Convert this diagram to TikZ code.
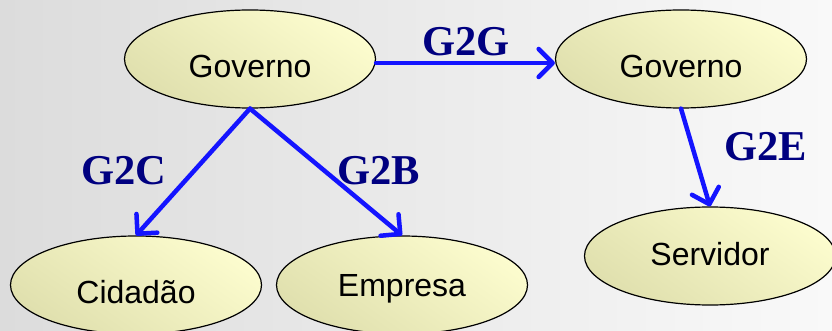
\documentclass[tikz,border=0pt]{standalone}
\usepackage{fontspec}
\setmainfont{Liberation Sans}
\newfontfamily\lblfont{Liberation Serif}
\usetikzlibrary{shapes.geometric,arrows.meta}
\definecolor{bgleft}{HTML}{DCDCDC}
\definecolor{bgright}{HTML}{F9F9F9}
\definecolor{ylight}{HTML}{FCFCCE}
\definecolor{ydark}{HTML}{E0E0AE}
\definecolor{arrblue}{HTML}{1414FF}
\definecolor{navy}{HTML}{000080}
\tikzset{
  entity/.style={ellipse, draw=black, line width=1.2pt, minimum width=251pt, minimum height=98pt,
    inner sep=0pt, top color=ylight, bottom color=ydark, shading angle=-35,
    font=\fontsize{32}{32}\selectfont, text height=#1, text depth=4pt},
  entity/.default=40pt,
  flow/.style={draw=arrblue, line width=4.5pt, line cap=round, line join=round,
    -{Straight Barb[length=14pt,width=28pt,line width=4.5pt,round]}},
  tag/.style={text=navy, font=\lblfont\bfseries\fontsize{42.5}{42.5}\selectfont, inner sep=0pt}
}
\begin{document}
\begin{tikzpicture}[x=1pt,y=-1pt]
\fill[left color=bgleft, right color=bgright] (0,0) rectangle (832,331);
\useasboundingbox (0,0) rectangle (832,331);
\node[entity=42pt] (g1) at (250,59) {Governo};
\node[entity=42pt] (g2) at (681,59) {Governo};
\node[entity=40pt] (cid) at (136,285) {Cidadão};
\node[entity=26pt] (emp) at (402,285) {Empresa};
\node[entity=22pt] (srv) at (710,256) {Servidor};
\draw[flow] ([yshift=-4pt]g1.east) -- ([yshift=-4pt]g2.west);
\draw[flow] (g1.south) -- (cid.north);
\draw[flow] (g1.south) -- (emp.north);
\draw[flow] (g2.south) -- (srv.north);
\node[tag] (t1) at (466,42) {G2G};
\node[tag] (t2) at (124,171) {G2C};
\node[tag] (t3) at (379,171) {G2B};
\node[tag] (t4) at (766,147) {G2E};
\end{tikzpicture}
\end{document}
